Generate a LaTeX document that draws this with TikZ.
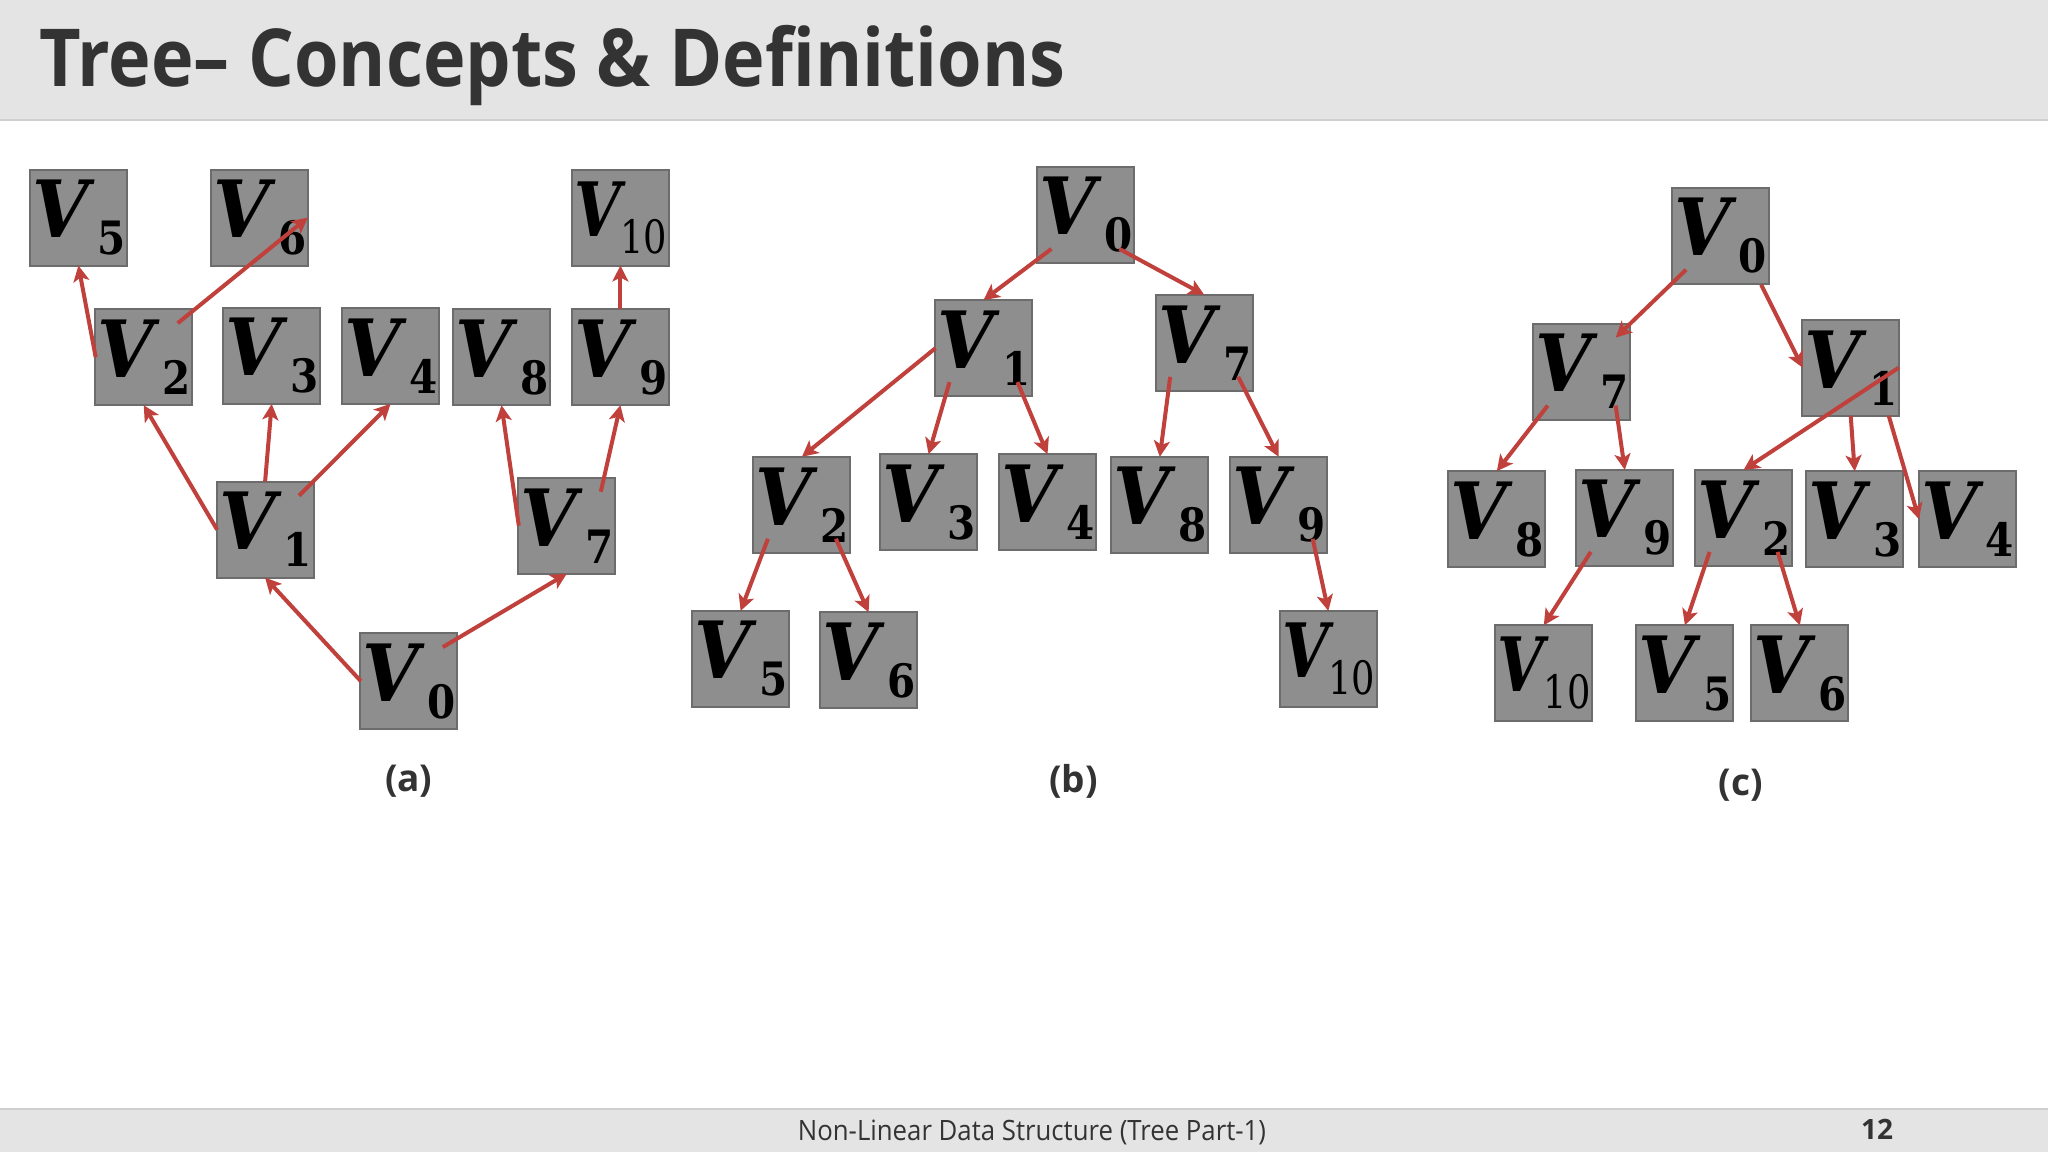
\documentclass[tikz,border=0pt]{standalone}
\usepackage{fontspec}
\setmainfont{DejaVu Serif}
\newfontfamily\osans{Open Sans}
\usetikzlibrary{arrows.meta,calc}
\definecolor{boxfill}{HTML}{8E8E8E}
\definecolor{boxline}{HTML}{6C6C6C}
\definecolor{arrowred}{HTML}{C0403C}
\definecolor{titlegray}{HTML}{333333}
\definecolor{bandgray}{HTML}{E4E4E4}
\definecolor{bandline}{HTML}{CFCFCF}
\newcommand{\vcontent}[1]{\rlap{\hspace*{1bp}\scalebox{0.92}[1]{\fontsize{79bp}{80bp}\selectfont\bfseries\itshape V}}\hspace*{94bp}\llap{\raisebox{-17bp}{\scalebox{0.88}[1]{\fontsize{46bp}{48bp}\selectfont\bfseries #1}}}}
\newcommand{\vcontentten}{\rlap{\hspace*{1bp}\scalebox{0.8}[1]{\fontsize{75bp}{78bp}\selectfont\bfseries\itshape V}}\hspace*{94bp}\llap{\raisebox{-17bp}{\scalebox{0.8}[1]{\fontsize{46bp}{48bp}\selectfont 10}}}}
\newcommand{\conn}[4]{\draw[arr] ($(#1)+(#2)$) -- ($(#3)+(#4)$);}
\begin{document}
\begin{tikzpicture}[x=1bp,y=-1bp,
  vbox/.style={draw=boxline, line width=2bp, fill=boxfill, rectangle, minimum width=97bp, minimum height=96bp, inner sep=0pt},
  arr/.style={draw=arrowred, line width=4bp, -{Stealth[length=16bp,width=16bp,inset=4bp]}},
  captext/.style={font=\osans\bfseries\fontsize{37bp}{40bp}\selectfont, text=titlegray}]
\useasboundingbox (0,0) rectangle (2048,1152);
\fill[white] (0,0) rectangle (2048,1152);
% header
\fill[bandgray] (0,0) rectangle (2048,120);
\draw[bandline, line width=2bp] (0,120) -- (2048,120);
\node[anchor=base west, inner sep=0pt, text=titlegray, font=\osans\bfseries\fontsize{80bp}{84bp}\selectfont] (title) at (39,86) {\scalebox{0.9}[1]{Tree– Concepts \& Definitions}};
% footer
\fill[bandgray] (0,1109) rectangle (2048,1152);
\draw[bandline, line width=2bp] (0,1109) -- (2048,1109);
\node[anchor=base, inner sep=0pt, text=titlegray, font=\osans\fontsize{28bp}{30bp}\selectfont] (foot) at (1032,1140) {\scalebox{0.92}[1]{Non-Linear Data Structure (Tree Part-1)}};
\node[anchor=base, inner sep=0pt, text=titlegray, font=\osans\bfseries\fontsize{28bp}{30bp}\selectfont] (pagenum) at (1877,1139) {12};
% panel (a)
\node[vbox] (a5) at (78.4,217.5) {\vcontent{5}};
\node[vbox] (a6) at (259.9,217.5) {\vcontent{6}};
\node[vbox] (a10) at (620.4,217.5) {\vcontentten};
\node[vbox] (a2) at (143.7,357.2) {\vcontent{2}};
\node[vbox] (a3) at (271.7,355.9) {\vcontent{3}};
\node[vbox] (a4) at (390.5,355.9) {\vcontent{4}};
\node[vbox] (a8) at (501.5,357.2) {\vcontent{8}};
\node[vbox] (a9) at (620.4,357.2) {\vcontent{9}};
\node[vbox] (a1) at (265.1,529.6) {\vcontent{1}};
\node[vbox] (a7) at (566.8,525.7) {\vcontent{7}};
\node[vbox] (a0) at (408.8,681.1) {\vcontent{0}};
\conn{a0}{-48,0}{a1}{0,48}
\conn{a0}{34,-34}{a7}{0,48}
\conn{a1}{-48,0}{a2}{0,48}
\conn{a1}{0,-48}{a3}{0,48}
\conn{a1}{34,-34}{a4}{0,48}
\conn{a2}{-48,0}{a5}{0,48}
\conn{a2}{34,-34}{a6}{48,0}
\conn{a7}{-48,0}{a8}{0,48}
\conn{a7}{34,-34}{a9}{0,48}
\conn{a9}{0,-48}{a10}{0,48}
\node[captext] (capa) at (408.8,781) {(a)};
% panel (b)
\node[vbox] (b0) at (1085.4,214.9) {\vcontent{0}};
\node[vbox] (b1) at (983.5,348.1) {\vcontent{1}};
\node[vbox] (b7) at (1204.2,342.8) {\vcontent{7}};
\node[vbox] (b2) at (801.9,504.8) {\vcontent{2}};
\node[vbox] (b3) at (928.6,502.2) {\vcontent{3}};
\node[vbox] (b4) at (1047.5,502.2) {\vcontent{4}};
\node[vbox] (b8) at (1159.8,504.8) {\vcontent{8}};
\node[vbox] (b9) at (1278.7,504.8) {\vcontent{9}};
\node[vbox] (b5) at (740.6,658.9) {\vcontent{5}};
\node[vbox] (b6) at (868.6,660.2) {\vcontent{6}};
\node[vbox] (b10) at (1328.3,658.9) {\vcontentten};
\conn{b0}{-34,34}{b1}{0,-48}
\conn{b0}{34,34}{b7}{0,-48}
\conn{b1}{-48,0}{b2}{0,-48}
\conn{b1}{-34,34}{b3}{0,-48}
\conn{b1}{34,34}{b4}{0,-48}
\conn{b7}{-34,34}{b8}{0,-48}
\conn{b7}{34,34}{b9}{0,-48}
\conn{b2}{-34,34}{b5}{0,-48}
\conn{b2}{34,34}{b6}{0,-48}
\conn{b9}{34,34}{b10}{0,-48}
\node[captext] (capb) at (1073.6,781) {(b)};
% panel (c)
\node[vbox] (c0) at (1720.1,235.7) {\vcontent{0}};
\node[vbox] (c7) at (1581.7,371.6) {\vcontent{7}};
\node[vbox] (c1) at (1850.7,367.7) {\vcontent{1}};
\node[vbox] (c8) at (1496.8,519.2) {\vcontent{8}};
\node[vbox] (c9) at (1624.8,517.9) {\vcontent{9}};
\node[vbox] (c2) at (1743.6,517.9) {\vcontent{2}};
\node[vbox] (c3) at (1854.7,519.2) {\vcontent{3}};
\node[vbox] (c4) at (1967.0,519.2) {\vcontent{4}};
\node[vbox] (c10) at (1543.8,673.3) {\vcontentten};
\node[vbox] (c5) at (1684.9,673.3) {\vcontent{5}};
\node[vbox] (c6) at (1799.8,673.3) {\vcontent{6}};
\conn{c0}{-34,34}{c7}{34,-34}
\conn{c0}{41,49}{c1}{-48,0}
\conn{c1}{48,0}{c2}{0,-48}
\conn{c1}{0,48}{c3}{0,-48}
\conn{c1}{38,48}{c4}{-48,0}
\conn{c7}{-34,34}{c8}{0,-48}
\conn{c7}{34,34}{c9}{0,-48}
\conn{c9}{-34,34}{c10}{0,-48}
\conn{c2}{-34,34}{c5}{0,-48}
\conn{c2}{34,34}{c6}{0,-48}
\node[captext] (capc) at (1741,785) {(c)};
\end{tikzpicture}
\end{document}
